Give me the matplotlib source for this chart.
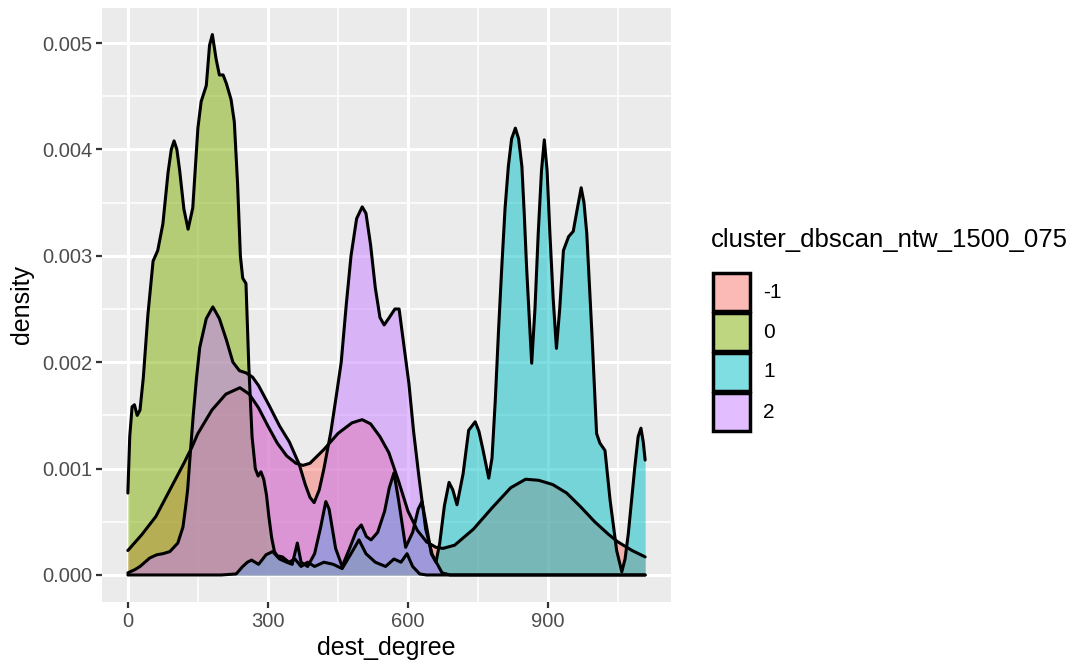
from matplotlib import pyplot as plt
from matplotlib.patches import Rectangle
import numpy as np

plt.rcParams['font.family'] = ['Liberation Sans', 'DejaVu Sans']
plt.rcParams['figure.dpi'] = 100

# density curves per cluster, x in dest_degree, y in units of 1e-3
x_m1 = [0, 30, 60, 90, 120, 137, 150, 180, 210, 240, 260, 280, 300, 320, 340, 360, 375, 390,
        420, 450, 480, 502, 520, 540, 559, 580, 600, 620, 640, 660, 675, 700, 740, 780, 820,
        852, 880, 910, 940, 970, 1000, 1030, 1050, 1080, 1108]
y_m1 = [0.23, 0.38, 0.55, 0.8, 1.05, 1.2, 1.33, 1.55, 1.7, 1.76, 1.7, 1.57, 1.4, 1.24, 1.12,
        1.05, 1.03, 1.05, 1.18, 1.33, 1.43, 1.46, 1.42, 1.3, 1.15, 0.88, 0.6, 0.42, 0.31, 0.26,
        0.25, 0.28, 0.43, 0.63, 0.82, 0.9, 0.89, 0.85, 0.77, 0.64, 0.5, 0.38, 0.31, 0.23, 0.17]

x_0 = [0, 4, 9, 14, 20, 26, 33, 43, 54, 64, 75, 86, 93, 99, 105, 111, 120, 129, 139, 150,
       157, 168, 175, 181, 189, 196, 204, 211, 221, 228, 235, 241, 246, 253, 259, 266, 273,
       279, 285, 291, 297, 302, 308, 314, 320, 331, 345, 358, 371, 385, 400, 420, 440, 459,
       478, 495, 510, 530, 552, 570, 585, 598, 610, 625, 640, 800, 1000, 1108]
y_0 = [0.77, 1.3, 1.58, 1.6, 1.5, 1.55, 1.85, 2.45, 2.95, 3.05, 3.3, 3.78, 4.0, 4.08, 4.0,
       3.8, 3.44, 3.25, 3.45, 4.2, 4.45, 4.6, 4.98, 5.08, 4.85, 4.7, 4.7, 4.62, 4.47, 4.26,
       3.68, 3.0, 2.79, 2.74, 1.97, 1.3, 1.0, 0.93, 0.97, 0.9, 0.75, 0.55, 0.35, 0.22, 0.18,
       0.17, 0.12, 0.15, 0.08, 0.12, 0.08, 0.12, 0.1, 0.06, 0.2, 0.33, 0.2, 0.12, 0.08, 0.15,
       0.12, 0.2, 0.08, 0.01, 0, 0, 0, 0]

x_1 = [0, 100, 200, 232, 246, 256, 265, 280, 296, 310, 325, 340, 352, 363, 371, 385, 400,
       413, 424, 431, 445, 459, 475, 490, 500, 511, 521, 535, 550, 560, 570, 580, 595, 610,
       622, 630, 640, 650, 660, 668, 678, 688, 696, 705, 718, 730, 744, 752, 761, 773, 780,
       787, 794, 801, 808, 815, 822, 830, 837, 844, 849, 854, 860, 865, 872, 879, 886, 892,
       898, 904, 911, 918, 925, 933, 944, 954, 963, 971, 977, 983, 994, 1004, 1011, 1022,
       1033, 1047, 1058, 1065, 1072, 1086, 1093, 1099, 1104, 1108]
y_1 = [0, 0, 0, 0.01, 0.08, 0.12, 0.14, 0.1, 0.19, 0.22, 0.15, 0.12, 0.1, 0.3, 0.12, 0.08,
       0.2, 0.45, 0.69, 0.62, 0.25, 0.08, 0.25, 0.42, 0.47, 0.36, 0.33, 0.4, 0.6, 0.82, 0.96,
       0.7, 0.26, 0.4, 0.62, 0.69, 0.45, 0.2, 0.12, 0.3, 0.65, 0.87, 0.8, 0.66, 0.95, 1.36,
       1.44, 1.35, 1.17, 0.91, 1.1, 1.64, 2.3, 2.9, 3.45, 3.84, 4.1, 4.2, 4.1, 3.84, 3.4, 2.9,
       2.4, 1.99, 2.5, 3.21, 3.8, 4.09, 3.8, 3.21, 2.6, 2.13, 2.5, 3.05, 3.18, 3.23, 3.45,
       3.64, 3.5, 3.21, 2.27, 1.33, 1.24, 1.17, 0.7, 0.23, 0.03, 0.15, 0.39, 1.02, 1.3, 1.38,
       1.25, 1.08]

x_2 = [0, 15, 26, 47, 62, 75, 90, 107, 118, 124, 128, 133, 140, 147, 154, 168, 182, 196,
       211, 225, 239, 253, 267, 280, 303, 325, 346, 367, 380, 390, 399, 410, 420, 435, 447,
       457, 468, 478, 490, 502, 510, 520, 530, 540, 549, 560, 572, 581, 590, 602, 612, 623,
       638, 652, 673, 690, 800, 1000, 1108]
y_2 = [0.02, 0.05, 0.08, 0.16, 0.19, 0.2, 0.22, 0.3, 0.45, 0.65, 0.8, 1.1, 1.5, 1.85, 2.14,
       2.41, 2.52, 2.41, 2.21, 2.0, 1.92, 1.9, 1.86, 1.78, 1.59, 1.4, 1.25, 1.04, 0.85, 0.73,
       0.68, 0.8, 1.0, 1.35, 1.7, 2.0, 2.55, 3.0, 3.35, 3.46, 3.4, 3.1, 2.7, 2.42, 2.35, 2.42,
       2.5, 2.5, 2.2, 1.8, 1.35, 0.94, 0.43, 0.19, 0.02, 0, 0, 0, 0]

clusters = ['-1', '0', '1', '2']
colors = ['#F8766D', '#7CAE00', '#00BFC4', '#C77CFF']
xs = [x_m1, x_0, x_1, x_2]
ys = [y_m1, y_0, y_1, y_2]

fig = plt.figure(figsize=(10.76, 6.66))
ax = fig.add_axes([102 / 1076, 64 / 666, 569 / 1076, 594.5 / 666])
ax.set_facecolor('#EBEBEB')

# each cluster: translucent fill, then black outline on top
for x, y, c in zip(xs, ys, colors):
    x = np.array(x)
    y = np.array(y) / 1000
    ax.fill_between(x, y, 0, color=c, alpha=0.5, lw=0)
    ax.plot(x, y, color='black', lw=2.2, solid_joinstyle='round', solid_capstyle='round')

# ggplot-style expansion of 5% on both axes
xmax = max(max(x) for x in xs)
ymax = max(max(y) for y in ys) / 1000
ax.set_xlim(-0.05 * xmax, 1.05 * xmax)
ax.set_ylim(-0.05 * ymax, 1.05 * ymax)

ax.set_xticks([0, 300, 600, 900])
ax.set_xticks([150, 450, 750, 1050], minor=True)
ax.set_yticks([0, 0.001, 0.002, 0.003, 0.004, 0.005])
ax.set_yticks([0.0005, 0.0015, 0.0025, 0.0035, 0.0045], minor=True)
ax.set_yticklabels(['0.000', '0.001', '0.002', '0.003', '0.004', '0.005'])
ax.grid(which='major', color='white', lw=2.2)
ax.grid(which='minor', color='white', lw=1.1)
ax.set_axisbelow(True)
for s in ax.spines.values():
    s.set_visible(False)
ax.tick_params(which='major', length=4, width=1.6, color='#333333',
               labelsize=14.5, labelcolor='#4D4D4D', pad=3)
ax.tick_params(which='minor', length=0)

ax.set_xlabel('dest_degree', fontsize=18, labelpad=4)
ax.set_ylabel('density', fontsize=18, labelpad=6)

# legend keys
fig.text(711 / 1076, 1 - 240 / 666, 'cluster_dbscan_ntw_1500_075', fontsize=18.5,
         va='center', ha='left')
for i, (lab, c) in enumerate(zip(clusters, colors)):
    top = 272 + i * 40
    fig.patches.append(Rectangle((713 / 1076, 1 - (top + 39) / 666), 37 / 1076, 38 / 666,
                                 transform=fig.transFigure, facecolor=c, alpha=0.5, lw=0))
    fig.patches.append(Rectangle((713 / 1076, 1 - (top + 39) / 666), 37 / 1076, 38 / 666,
                                 transform=fig.transFigure, facecolor='none',
                                 edgecolor='black', lw=2.5))
    fig.text(763 / 1076, 1 - (top + 20) / 666, lab, fontsize=15, va='center', ha='left')

fig.savefig('out.png', dpi=100)
